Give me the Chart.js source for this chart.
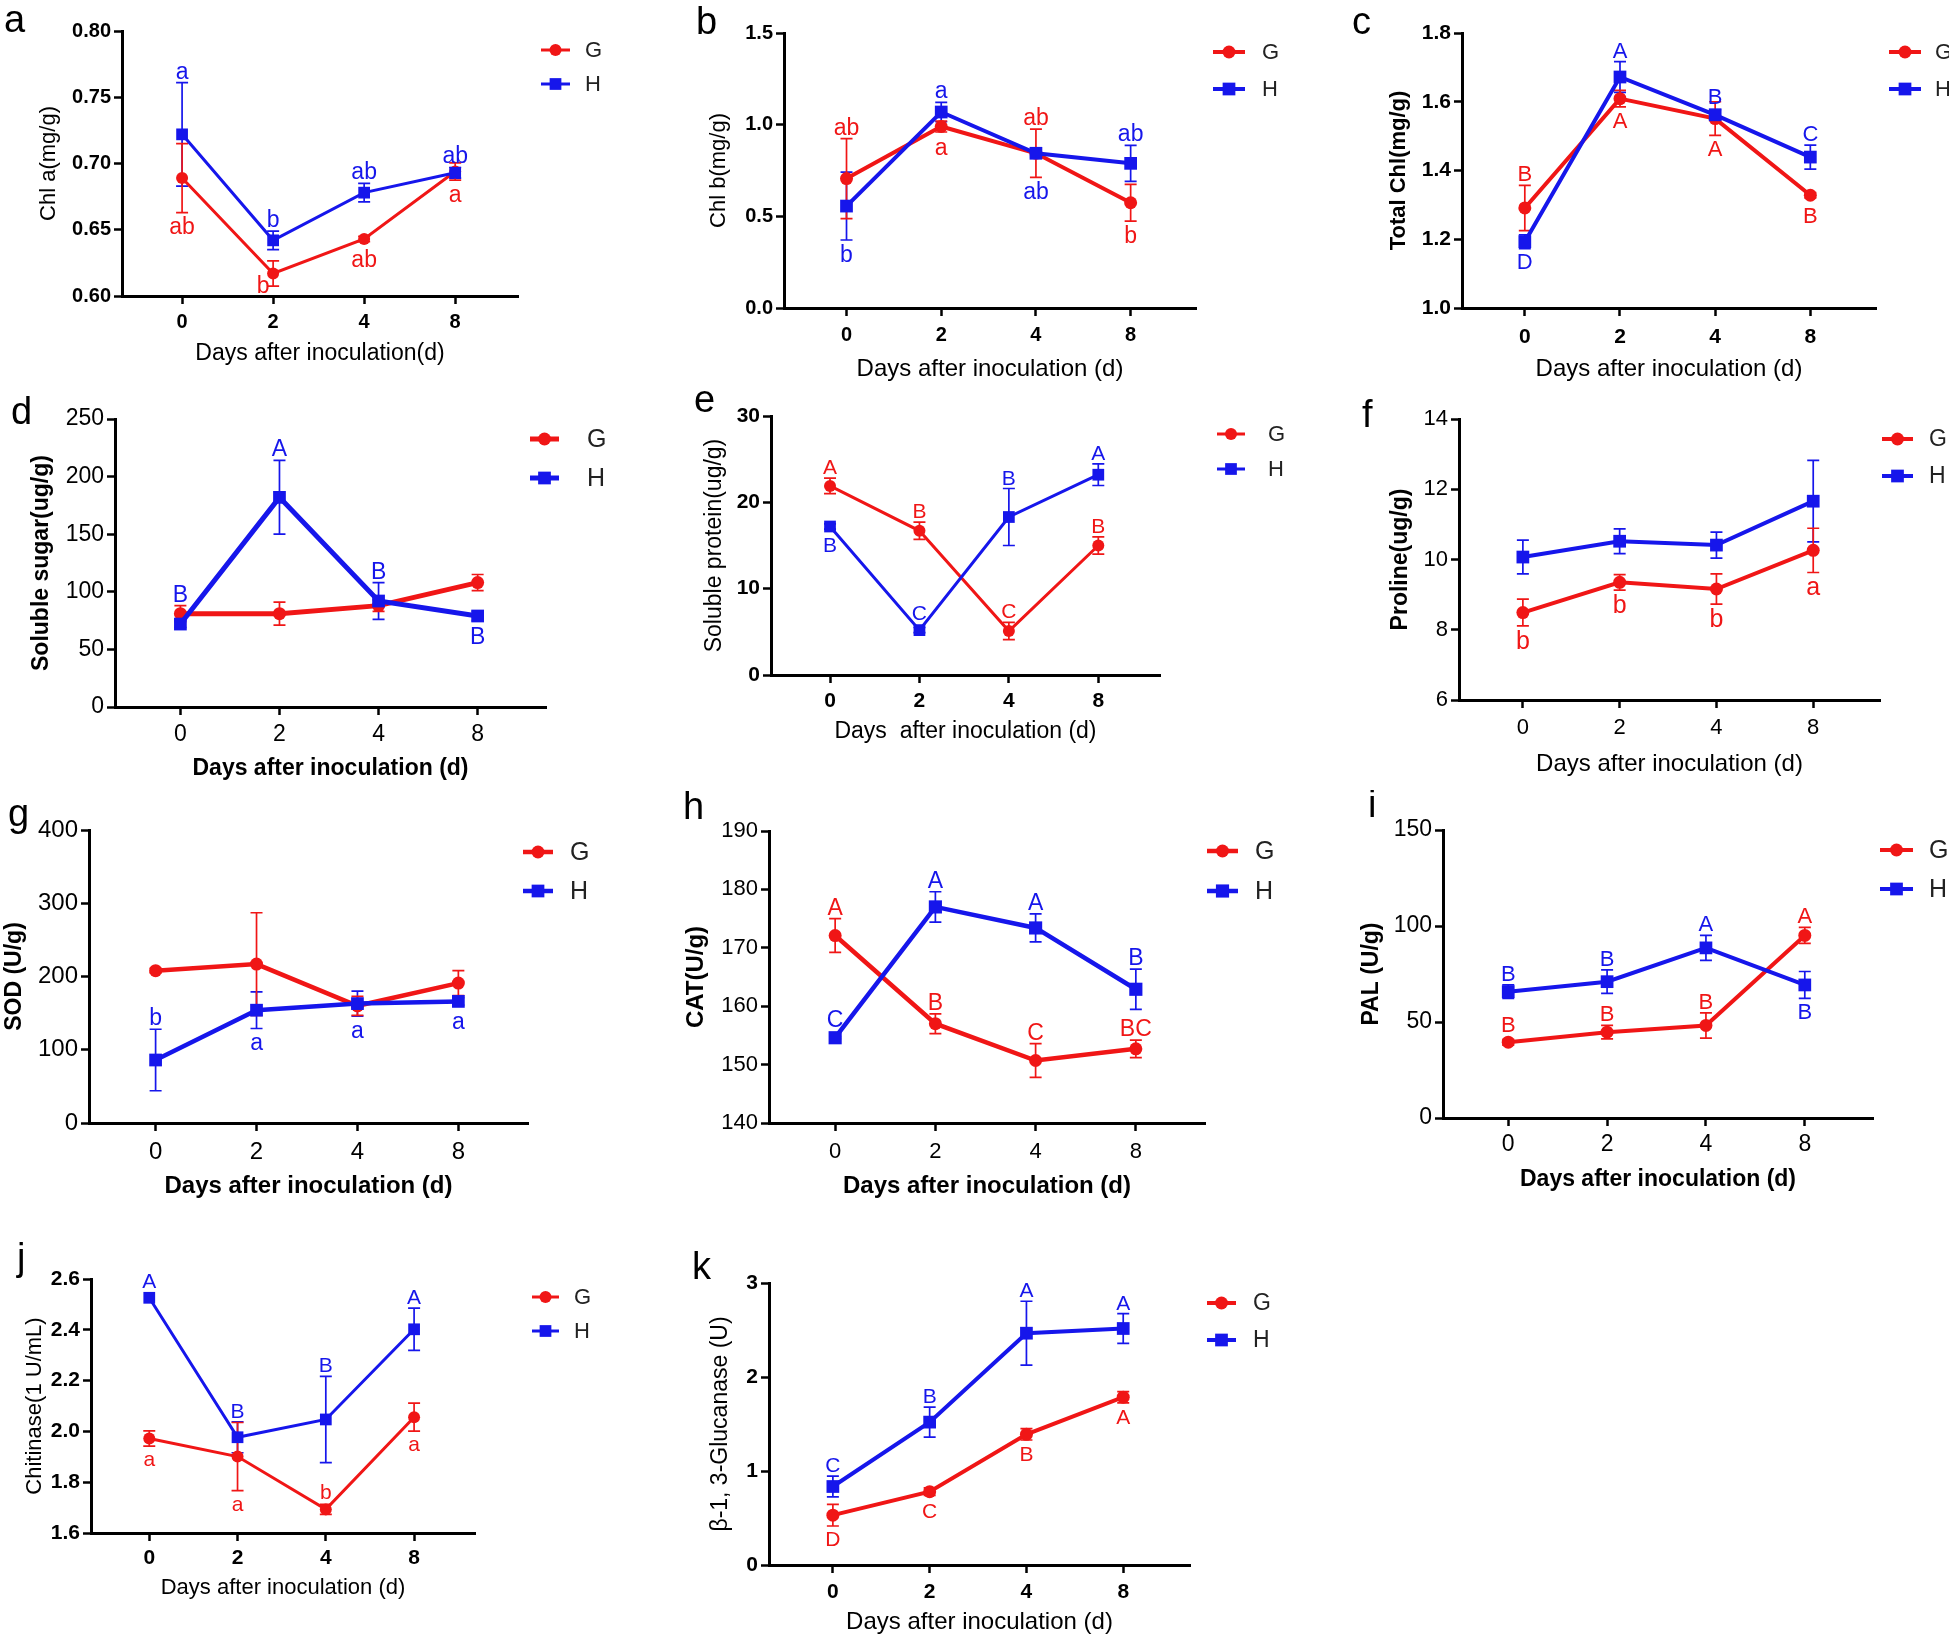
<!DOCTYPE html>
<html>
<head>
<meta charset="utf-8">
<script src="https://cdn.jsdelivr.net/npm/chart.js@4.4.1/dist/chart.umd.min.js"></script>
<style>
html, body { margin: 0; padding: 0; background: #fff; }
#fig { position: relative; width: 1949px; height: 1637px; overflow: hidden; background: #fff; }
.cell { position: absolute; }
</style>
</head>
<body>
<div id="fig"></div>
<script>
var days = ['0', '2', '4', '8'];

// a - Chl a
var chlaTicks = ['0.60', '0.65', '0.70', '0.75', '0.80'];
var chlaG = [0.689, 0.617, 0.643, 0.694];
var chlaGErr = [0.026, 0.0095, 0.002, 0.0065];
var chlaH = [0.722, 0.642, 0.678, 0.693];
var chlaHErr = [0.039, 0.007, 0.007, 0.004];
var chlaGLet = ['ab', 'b', 'ab', 'a'], chlaGPos = ['d', 'L', 'd', 'd'];
var chlaHLet = ['a', 'b', 'ab', 'ab'], chlaHPos = ['u', 'u', 'u', 'u'];

// b - Chl b
var chlbTicks = ['0.0', '0.5', '1.0', '1.5'];
var chlbG = [0.706, 0.990, 0.844, 0.574];
var chlbGErr = [0.218, 0.03, 0.132, 0.10];
var chlbH = [0.556, 1.069, 0.844, 0.789];
var chlbHErr = [0.185, 0.053, 0.02, 0.098];
var chlbGLet = ['ab', 'a', 'ab', 'b'], chlbGPos = ['u', 'd', 'u', 'd'];
var chlbHLet = ['b', 'a', 'ab', 'ab'], chlbHPos = ['d', 'u', 'D', 'u'];

// c - Total Chl
var chlTicks = ['1.0', '1.2', '1.4', '1.6', '1.8'];
var chlG = [1.291, 1.609, 1.551, 1.328];
var chlGErr = [0.066, 0.024, 0.049, 0.008];
var chlH = [1.193, 1.672, 1.562, 1.439];
var chlHErr = [0.02, 0.045, 0.015, 0.035];
var chlGLet = ['B', 'A', 'A', 'B'], chlGPos = ['u', 'd', 'd', 'd'];
var chlHLet = ['D', 'A', 'B', 'C'], chlHPos = ['d', 'u', 'u', 'u'];

// d - Soluble sugar
var sugarTicks = ['0', '50', '100', '150', '200', '250'];
var sugarG = [81, 81, 88, 108];
var sugarGErr = [7, 10, 5, 7];
var sugarH = [72, 182, 92, 79];
var sugarHErr = [3, 32, 16, 4];
var sugarGLet = ['', '', '', ''], sugarGPos = ['u', 'u', 'u', 'u'];
var sugarHLet = ['B', 'A', 'B', 'B'], sugarHPos = ['U', 'u', 'u', 'd'];

// e - Soluble protein
var protTicks = ['0', '10', '20', '30'];
var protG = [21.9, 16.7, 5.1, 15.0];
var protGErr = [0.9, 1.0, 1.0, 1.0];
var protH = [17.2, 5.2, 18.3, 23.2];
var protHErr = [0.3, 0.3, 3.3, 1.25];
var protGLet = ['A', 'B', 'C', 'B'], protGPos = ['u', 'u', 'u', 'u'];
var protHLet = ['B', 'C', 'B', 'A'], protHPos = ['d', 'u', 'u', 'u'];

// f - Proline
var proTicks = ['6', '8', '10', '12', '14'];
var proG = [8.49, 9.35, 9.16, 10.26];
var proGErr = [0.38, 0.22, 0.43, 0.63];
var proH = [10.07, 10.52, 10.41, 11.66];
var proHErr = [0.48, 0.35, 0.37, 1.16];
var proGLet = ['b', 'b', 'b', 'a'], proGPos = ['d', 'd', 'd', 'd'];
var proHLet = ['', '', '', ''], proHPos = ['u', 'u', 'u', 'u'];

// g - SOD
var sodTicks = ['0', '100', '200', '300', '400'];
var sodG = [208, 217, 160, 191];
var sodGErr = [3, 70, 13, 17];
var sodH = [86, 154, 163, 166];
var sodHErr = [42, 25, 17, 5];
var sodGLet = ['', '', '', ''], sodGPos = ['u', 'u', 'u', 'u'];
var sodHLet = ['b', 'a', 'a', 'a'], sodHPos = ['u', 'd', 'd', 'd'];

// h - CAT
var catTicks = ['140', '150', '160', '170', '180', '190'];
var catG = [172.1, 157.0, 150.7, 152.7];
var catGErr = [2.9, 1.7, 2.9, 1.5];
var catH = [154.6, 177.0, 173.4, 162.9];
var catHErr = [0.2, 2.6, 2.4, 3.45];
var catGLet = ['A', 'B', 'C', 'BC'], catGPos = ['u', 'u', 'u', 'u'];
var catHLet = ['C', 'A', 'A', 'B'], catHPos = ['u', 'u', 'u', 'u'];

// i - PAL
var palTicks = ['0', '50', '100', '150'];
var palG = [39.5, 44.7, 48.2, 95.1];
var palGErr = [1.5, 3.5, 6.6, 4.2];
var palH = [65.8, 71.0, 88.6, 69.3];
var palHErr = [3.5, 6.1, 6.5, 7.0];
var palGLet = ['B', 'B', 'B', 'A'], palGPos = ['u', 'u', 'u', 'u'];
var palHLet = ['B', 'B', 'A', 'B'], palHPos = ['u', 'u', 'u', 'd'];

// j - Chitinase
var chiTicks = ['1.6', '1.8', '2.0', '2.2', '2.4', '2.6'];
var chiG = [1.972, 1.901, 1.693, 2.056];
var chiGErr = [0.03, 0.134, 0.02, 0.055];
var chiH = [2.526, 1.977, 2.047, 2.402];
var chiHErr = [0, 0.061, 0.17, 0.083];
var chiGLet = ['a', 'a', 'b', 'a'], chiGPos = ['d', 'd', 'u', 'd'];
var chiHLet = ['A', 'B', 'B', 'A'], chiHPos = ['u', 'u', 'u', 'u'];

// k - beta-1,3-glucanase
var gluTicks = ['0', '1', '2', '3'];
var gluG = [0.53, 0.78, 1.39, 1.785];
var gluGErr = [0.115, 0.04, 0.06, 0.06];
var gluH = [0.835, 1.52, 2.466, 2.516];
var gluHErr = [0.11, 0.16, 0.34, 0.158];
var gluGLet = ['D', 'C', 'B', 'A'], gluGPos = ['d', 'd', 'd', 'd'];
var gluHLet = ['C', 'B', 'A', 'A'], gluHPos = ['u', 'u', 'u', 'u'];

var RED = 'rgb(240,22,22)';
var BLUE = 'rgb(22,22,235)';
var FONT = "'Liberation Sans', Arial, Helvetica, sans-serif";
var XMIN = -0.66, XMAX = 3.69;
var TICK_LEN = 8;

function pts(vals) {
    return vals.map(function (v, j) { return { x: j, y: v }; });
}

function fontStr(size, bold) {
    return (bold ? 'bold ' : '') + size + 'px ' + FONT;
}

function makePanel(p) {
    var c = p.cell;
    var div = document.createElement('div');
    div.className = 'cell';
    div.style.left = c[0] + 'px';
    div.style.top = c[1] + 'px';
    div.style.width = c[2] + 'px';
    div.style.height = c[3] + 'px';
    var cv = document.createElement('canvas');
    div.appendChild(cv);
    document.getElementById('fig').appendChild(div);

    var series = [
        { vals: p.H, err: p.HE, let: p.HL, pos: p.HP, color: BLUE, r: p.sr * Math.SQRT1_2 },
        { vals: p.G, err: p.GE, let: p.GL, pos: p.GP, color: RED, r: p.cr }
    ];
    var tickFont = { family: FONT, size: p.tick, weight: p.tickBold ? 'bold' : 'normal' };
    var gridOpt = { display: true, drawOnChartArea: false, drawTicks: true, tickLength: TICK_LEN, tickWidth: 2.5, color: '#000', tickColor: '#000' };
    var borderOpt = { display: true, color: '#000', width: 3 };

    var deco = {
        id: 'deco',
        beforeDatasetsDraw: function (chart) {
            var ctx = chart.ctx, xs = chart.scales.x, ys = chart.scales.y;
            series.forEach(function (s) {
                ctx.save();
                ctx.strokeStyle = s.color;
                ctx.lineWidth = 1.7;
                s.vals.forEach(function (v, j) {
                    var e = s.err[j];
                    if (!e) return;
                    var x = xs.getPixelForValue(j);
                    var y1 = ys.getPixelForValue(v + e), y2 = ys.getPixelForValue(v - e);
                    ctx.beginPath();
                    ctx.moveTo(x, y1); ctx.lineTo(x, y2);
                    ctx.moveTo(x - 6, y1); ctx.lineTo(x + 6, y1);
                    ctx.moveTo(x - 6, y2); ctx.lineTo(x + 6, y2);
                    ctx.stroke();
                });
                ctx.restore();
            });
        },
        afterDraw: function (chart) {
            var ctx = chart.ctx, xs = chart.scales.x, ys = chart.scales.y;
            function edge(s, j, up) {
                var v = s.vals[j], e = s.err[j] || 0, yc = ys.getPixelForValue(v);
                return up ? Math.min(ys.getPixelForValue(v + e), yc - s.r)
                          : Math.max(ys.getPixelForValue(v - e), yc + s.r);
            }
            ctx.save();
            ctx.textAlign = 'center';
            ctx.textBaseline = 'alphabetic';
            ctx.font = fontStr(p.ann, false);
            series.forEach(function (s) {
                ctx.fillStyle = s.color;
                s.let.forEach(function (t, j) {
                    if (!t) return;
                    var pos = s.pos[j], up = pos === 'u' || pos === 'U', y;
                    var x = xs.getPixelForValue(j);
                    if (pos === 'L') {
                        // tucked in at the lower left of the marker
                        ctx.fillText(t, x - 10, ys.getPixelForValue(s.vals[j]) + p.ann * 0.72 + 3);
                        return;
                    }
                    if (pos === 'U') y = Math.min(edge(series[0], j, true), edge(series[1], j, true));
                    else if (pos === 'D') y = Math.max(edge(series[0], j, false), edge(series[1], j, false));
                    else y = edge(s, j, up);
                    y = up ? y - 4 : y + 5 + p.ann * 0.72;
                    ctx.fillText(t, x, y);
                });
            });

            // legend
            var lg = p.leg, ox = c[0], oy = c[1];
            [['G', RED, 'circle', lg[3]], ['H', BLUE, 'rect', lg[4]]].forEach(function (it) {
                var y = it[3] - oy, x0 = lg[0] - ox, x1 = lg[1] - ox, xm = (x0 + x1) / 2;
                ctx.strokeStyle = it[1];
                ctx.fillStyle = it[1];
                ctx.lineWidth = p.lw;
                ctx.beginPath(); ctx.moveTo(x0, y); ctx.lineTo(x1, y); ctx.stroke();
                if (it[2] === 'circle') {
                    ctx.beginPath(); ctx.arc(xm, y, p.cr, 0, Math.PI * 2); ctx.fill();
                } else {
                    var h = p.sr * Math.SQRT1_2;
                    ctx.fillRect(xm - h, y - h, 2 * h, 2 * h);
                }
                ctx.fillStyle = '#222';
                ctx.textAlign = 'left';
                ctx.textBaseline = 'middle';
                ctx.font = fontStr(p.legSize, false);
                ctx.fillText(it[0], lg[2] - ox, y + 1);
            });

            // panel letter
            ctx.fillStyle = '#000';
            ctx.textAlign = 'left';
            ctx.textBaseline = 'alphabetic';
            ctx.font = fontStr(38, false);
            ctx.fillText(p.id, p.tag[0] - ox, p.tag[1] - oy);
            ctx.restore();
        }
    };

    new Chart(cv, {
        type: 'line',
        data: {
            datasets: series.map(function (s, k) {
                return {
                    label: k === 0 ? 'H' : 'G',
                    data: pts(s.vals),
                    borderColor: s.color,
                    backgroundColor: s.color,
                    borderWidth: p.lw,
                    pointStyle: k === 0 ? 'rect' : 'circle',
                    pointRadius: k === 0 ? p.sr : p.cr,
                    pointHoverRadius: k === 0 ? p.sr : p.cr,
                    pointBorderWidth: 0,
                    tension: 0,
                    clip: false
                };
            })
        },
        options: {
            responsive: true,
            maintainAspectRatio: false,
            animation: false,
            devicePixelRatio: 1,
            events: [],
            layout: { padding: { left: 0, top: p.T - c[1], right: c[0] + c[2] - p.R, bottom: 0 } },
            plugins: { legend: { display: false }, tooltip: { enabled: false } },
            scales: {
                x: {
                    type: 'linear', min: XMIN, max: XMAX,
                    afterBuildTicks: function (s) { s.ticks = days.map(function (d, j) { return { value: j }; }); },
                    afterFit: function (s) { s.height = c[1] + c[3] - p.B; },
                    ticks: {
                        autoSkip: false, maxRotation: 0, color: '#000', font: tickFont,
                        padding: p.tickY - p.B - TICK_LEN - p.tick * 0.6,
                        callback: function (v) { return days[v]; }
                    },
                    grid: gridOpt,
                    border: borderOpt,
                    title: {
                        display: true, text: p.xTitle, color: '#000',
                        font: { family: FONT, size: p.xSize, weight: p.xBold ? 'bold' : 'normal' },
                        padding: { top: 0, bottom: c[1] + c[3] - p.xTY - p.xSize * 0.6 }
                    }
                },
                y: {
                    type: 'linear',
                    min: parseFloat(p.ticks[0]),
                    max: parseFloat(p.ticks[p.ticks.length - 1]),
                    afterBuildTicks: function (s) { s.ticks = p.ticks.map(function (t) { return { value: parseFloat(t) }; }); },
                    afterFit: function (s) { s.width = p.L - c[0]; },
                    ticks: {
                        autoSkip: false, color: '#000', font: tickFont, padding: 3,
                        callback: function (v, i) { return p.ticks[i]; }
                    },
                    grid: gridOpt,
                    border: borderOpt,
                    title: {
                        display: true, text: p.yTitle, color: '#000',
                        font: { family: FONT, size: p.ySize, weight: p.yBold ? 'bold' : 'normal' },
                        padding: { top: p.yTX - c[0] - p.ySize * 0.6, bottom: 0 }
                    }
                }
            }
        },
        plugins: [deco]
    });
}

var DAYS_T = 'Days after inoculation (d)';

makePanel({ id: 'a', cell: [0, 0, 650, 383], L: 122, T: 31, B: 296, R: 518, yTX: 49, xTY: 354, tickY: 322,
    leg: [541, 570, 585, 50, 84], tag: [4, 32],
    ticks: chlaTicks, G: chlaG, GE: chlaGErr, H: chlaH, HE: chlaHErr, GL: chlaGLet, GP: chlaGPos, HL: chlaHLet, HP: chlaHPos,
    yTitle: 'Chl a(mg/g)', xTitle: 'Days after inoculation(d)',
    tick: 20, tickBold: true, ySize: 22, yBold: false, xSize: 23, xBold: false, legSize: 22, ann: 23, lw: 3, cr: 6, sr: 8.3 });

makePanel({ id: 'b', cell: [650, 0, 660, 383], L: 784, T: 33, B: 308, R: 1196, yTX: 719, xTY: 369, tickY: 335,
    leg: [1213, 1245, 1262, 52, 89], tag: [696, 34],
    ticks: chlbTicks, G: chlbG, GE: chlbGErr, H: chlbH, HE: chlbHErr, GL: chlbGLet, GP: chlbGPos, HL: chlbHLet, HP: chlbHPos,
    yTitle: 'Chl b(mg/g)', xTitle: DAYS_T,
    tick: 20, tickBold: true, ySize: 22, yBold: false, xSize: 24, xBold: false, legSize: 22, ann: 23, lw: 4, cr: 6.5, sr: 9 });

makePanel({ id: 'c', cell: [1310, 0, 639, 383], L: 1462, T: 33, B: 308, R: 1876, yTX: 1399, xTY: 369, tickY: 337,
    leg: [1889, 1921, 1935, 52, 89], tag: [1352, 34],
    ticks: chlTicks, G: chlG, GE: chlGErr, H: chlH, HE: chlHErr, GL: chlGLet, GP: chlGPos, HL: chlHLet, HP: chlHPos,
    yTitle: 'Total Chl(mg/g)', xTitle: DAYS_T,
    tick: 21, tickBold: true, ySize: 22, yBold: true, xSize: 24, xBold: false, legSize: 22, ann: 22, lw: 4, cr: 6.5, sr: 9 });

makePanel({ id: 'd', cell: [0, 383, 650, 407], L: 115, T: 419, B: 707, R: 546, yTX: 42, xTY: 769, tickY: 735,
    leg: [530, 559, 587, 439, 478], tag: [11, 424],
    ticks: sugarTicks, G: sugarG, GE: sugarGErr, H: sugarH, HE: sugarHErr, GL: sugarGLet, GP: sugarGPos, HL: sugarHLet, HP: sugarHPos,
    yTitle: 'Soluble sugar(ug/g)', xTitle: DAYS_T,
    tick: 23, tickBold: false, ySize: 23, yBold: true, xSize: 23, xBold: true, legSize: 25, ann: 23, lw: 5, cr: 6.5, sr: 9 });

makePanel({ id: 'e', cell: [650, 383, 660, 407], L: 771, T: 416, B: 675, R: 1160, yTX: 715, xTY: 732, tickY: 701,
    leg: [1217, 1245, 1268, 434, 469], tag: [694, 412],
    ticks: protTicks, G: protG, GE: protGErr, H: protH, HE: protHErr, GL: protGLet, GP: protGPos, HL: protHLet, HP: protHPos,
    yTitle: 'Soluble protein(ug/g)', xTitle: 'Days  after inoculation (d)',
    tick: 21, tickBold: true, ySize: 23, yBold: false, xSize: 23, xBold: false, legSize: 22, ann: 21, lw: 3, cr: 6, sr: 8.3 });

makePanel({ id: 'f', cell: [1310, 383, 639, 407], L: 1459, T: 419, B: 700, R: 1880, yTX: 1401, xTY: 764, tickY: 728,
    leg: [1882, 1913, 1929, 439, 476], tag: [1362, 427],
    ticks: proTicks, G: proG, GE: proGErr, H: proH, HE: proHErr, GL: proGLet, GP: proGPos, HL: proHLet, HP: proHPos,
    yTitle: 'Proline(ug/g)', xTitle: DAYS_T,
    tick: 22, tickBold: false, ySize: 23, yBold: true, xSize: 24, xBold: false, legSize: 23, ann: 25, lw: 4, cr: 6.5, sr: 9 });

makePanel({ id: 'g', cell: [0, 790, 650, 442], L: 89, T: 830, B: 1123, R: 528, yTX: 15, xTY: 1186, tickY: 1152,
    leg: [523, 553, 570, 852, 891], tag: [8, 826],
    ticks: sodTicks, G: sodG, GE: sodGErr, H: sodH, HE: sodHErr, GL: sodGLet, GP: sodGPos, HL: sodHLet, HP: sodHPos,
    yTitle: 'SOD (U/g)', xTitle: DAYS_T,
    tick: 24, tickBold: false, ySize: 23, yBold: true, xSize: 24, xBold: true, legSize: 25, ann: 23, lw: 4.5, cr: 6.5, sr: 9 });

makePanel({ id: 'h', cell: [650, 790, 660, 442], L: 769, T: 831, B: 1123, R: 1205, yTX: 696, xTY: 1186, tickY: 1152,
    leg: [1207, 1238, 1255, 851, 891], tag: [683, 819],
    ticks: catTicks, G: catG, GE: catGErr, H: catH, HE: catHErr, GL: catGLet, GP: catGPos, HL: catHLet, HP: catHPos,
    yTitle: 'CAT(U/g)', xTitle: DAYS_T,
    tick: 22, tickBold: false, ySize: 24, yBold: true, xSize: 24, xBold: true, legSize: 25, ann: 23, lw: 4.5, cr: 6.5, sr: 9.3 });

makePanel({ id: 'i', cell: [1310, 790, 639, 442], L: 1443, T: 830, B: 1118, R: 1873, yTX: 1372, xTY: 1180, tickY: 1145,
    leg: [1880, 1913, 1929, 850, 889], tag: [1368, 817],
    ticks: palTicks, G: palG, GE: palGErr, H: palH, HE: palHErr, GL: palGLet, GP: palGPos, HL: palHLet, HP: palHPos,
    yTitle: 'PAL (U/g)', xTitle: DAYS_T,
    tick: 23, tickBold: false, ySize: 23, yBold: true, xSize: 23, xBold: true, legSize: 25, ann: 22, lw: 4, cr: 6.5, sr: 9 });

makePanel({ id: 'j', cell: [0, 1232, 650, 405], L: 91, T: 1279, B: 1533, R: 475, yTX: 35, xTY: 1588, tickY: 1558,
    leg: [532, 559, 574, 1297, 1331], tag: [17, 1270],
    ticks: chiTicks, G: chiG, GE: chiGErr, H: chiH, HE: chiHErr, GL: chiGLet, GP: chiGPos, HL: chiHLet, HP: chiHPos,
    yTitle: 'Chitinase(1 U/mL)', xTitle: DAYS_T,
    tick: 21, tickBold: true, ySize: 22, yBold: false, xSize: 22, xBold: false, legSize: 22, ann: 21, lw: 3, cr: 6, sr: 8.3 });

makePanel({ id: 'k', cell: [650, 1232, 660, 405], L: 769, T: 1283, B: 1565, R: 1190, yTX: 721, xTY: 1622, tickY: 1592,
    leg: [1207, 1236, 1253, 1303, 1340], tag: [692, 1279],
    ticks: gluTicks, G: gluG, GE: gluGErr, H: gluH, HE: gluHErr, GL: gluGLet, GP: gluGPos, HL: gluHLet, HP: gluHPos,
    yTitle: 'β-1, 3-Glucanase (U)', xTitle: DAYS_T,
    tick: 21, tickBold: true, ySize: 23, yBold: false, xSize: 24, xBold: false, legSize: 23, ann: 21, lw: 4, cr: 6.5, sr: 9 });
</script>
</body>
</html>
